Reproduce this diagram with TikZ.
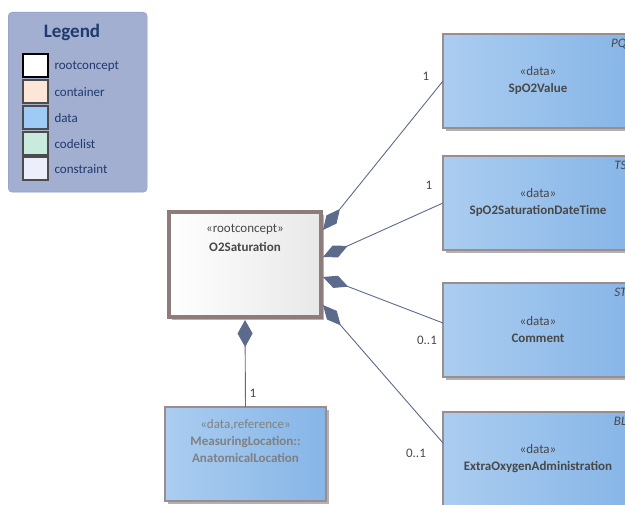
\documentclass[tikz,border=0pt]{standalone}
\usepackage{fontspec}
\setmainfont{Carlito}
\usetikzlibrary{shadows,arrows.meta}
\definecolor{legendbg}{HTML}{A2AFD0}
\definecolor{legendedge}{HTML}{8E9BC0}
\definecolor{legendink}{HTML}{1F3A6E}
\definecolor{containerfill}{HTML}{FBE6D8}
\definecolor{datafill}{HTML}{9DCBF6}
\definecolor{codelistfill}{HTML}{C8EBDE}
\definecolor{constraintfill}{HTML}{EDEEFB}
\definecolor{datalight}{HTML}{ABCDF0}
\definecolor{datadark}{HTML}{86B5E7}
\definecolor{boxedge}{HTML}{9C8D8D}
\definecolor{rootedge}{HTML}{8E7B7B}
\definecolor{linkink}{HTML}{5C6A8B}
\definecolor{textink}{HTML}{484848}
\definecolor{refink}{HTML}{808080}

\begin{document}
\begin{tikzpicture}[x=1pt,y=-1pt,
  boxfont/.style={font=\fontsize{13}{15}\selectfont},
  databox/.style={boxfont, draw=boxedge, line width=1.3pt, left color=datalight, right color=datadark,
    anchor=north west, outer sep=0pt, align=center, text=textink, minimum width=190pt, minimum height=94pt,
    drop shadow={shadow xshift=3pt, shadow yshift=-3pt, fill=black!30, opacity=1}},
  tag/.style={anchor=north east, xshift=-3pt, yshift=-2pt, font=\fontsize{13}{15}\selectfont\itshape, text=textink},
  comp/.style={draw=linkink, line width=0.9pt, {Diamond[length=27pt,width=13pt,fill=linkink]}-},
  mult/.style={boxfont, text=textink},
  swatch/.style={draw=black!70, line width=1.2pt, anchor=north west, minimum width=25pt, minimum height=23pt, outer sep=0pt},
  legendtext/.style={boxfont, anchor=west, text=legendink}]
\useasboundingbox (0,0) rectangle (625,505);
\clip (0,0) rectangle (625,505);

% legend
\node[draw=legendedge, fill=legendbg, rounded corners=4pt, anchor=north west, minimum width=139pt, minimum height=180pt] (legend) at (8,12) {};
\node[font=\fontsize{19}{21}\selectfont\bfseries, text=legendink] (legendtitle) at (72,32) {Legend};
\node[swatch, fill=white, draw=black, line width=2.6pt] (swroot) at (23,54) {};
\node[legendtext] (ltroot) at (51,66) {rootconcept};
\node[swatch, fill=containerfill] (swcontainer) at (23,80) {};
\node[legendtext] (ltcontainer) at (51,92) {container};
\node[swatch, fill=datafill] (swdata) at (23,106) {};
\node[legendtext] (ltdata) at (51,118) {data};
\node[swatch, fill=codelistfill] (swcodelist) at (23,132) {};
\node[legendtext] (ltcodelist) at (51,144) {codelist};
\node[swatch, fill=constraintfill] (swconstraint) at (23,157) {};
\node[legendtext] (ltconstraint) at (51,169) {constraint};

% root concept
\node[draw=rootedge, line width=4pt, left color=white, right color=black!9, anchor=north west, outer sep=0pt,
  minimum width=152pt, minimum height=105pt,
  drop shadow={shadow xshift=3pt, shadow yshift=-3pt, fill=black!30, opacity=1},
  label={[boxfont, anchor=north, yshift=-9pt, align=center, text=textink]north:{«rootconcept»\\[4pt]\textbf{O2Saturation}}}] (o2) at (169,212) {};

% data boxes
\node[databox, label={[tag]north east:PQ}] (spo2) at (443,34) {«data»\\[2pt]\textbf{SpO2Value}};
\node[databox, label={[tag]north east:TS}] (datetime) at (443,156) {«data»\\[2pt]\textbf{SpO2SaturationDateTime}};
\node[databox, label={[tag]north east:ST}] (comment) at (443,283) {«data»\\[2pt]\textbf{Comment}};
\node[databox, label={[tag]north east:BL}] (extra) at (443,412) {«data»\\[2pt]\textbf{ExtraOxygenAdministration}};
\node[databox, minimum width=161pt,
  label={[boxfont, anchor=north, yshift=-9pt, align=center, text=refink]north:{«data,reference»\\[2pt]\textbf{MeasuringLocation::}\\[2pt]\textbf{AnatomicalLocation}}}] (meas) at (165,407) {};

% connectors
\draw[comp] ([xshift=2pt,yshift=-18pt]o2.north east) -- (spo2.west);
\draw[comp] ([xshift=2pt,yshift=-45pt]o2.north east) -- (datetime.west);
\draw[comp] ([xshift=2pt,yshift=-65pt]o2.north east) -- ([yshift=-40pt]comment.north west);
\draw[comp] ([xshift=2pt,yshift=-93pt]o2.north east) -- ([yshift=-31pt]extra.north west);
\draw[comp, {Diamond[length=27pt,width=15pt,fill=linkink]}-] ([yshift=-3pt]o2.south) -- (meas.north);

\node[mult] (mspo2) at (426,76) {1};
\node[mult] (mdatetime) at (429,185) {1};
\node[mult] (mcomment) at (427,340) {0..1};
\node[mult] (mextra) at (416,453) {0..1};
\node[mult] (mmeas) at (253,393) {1};
\end{tikzpicture}
\end{document}
